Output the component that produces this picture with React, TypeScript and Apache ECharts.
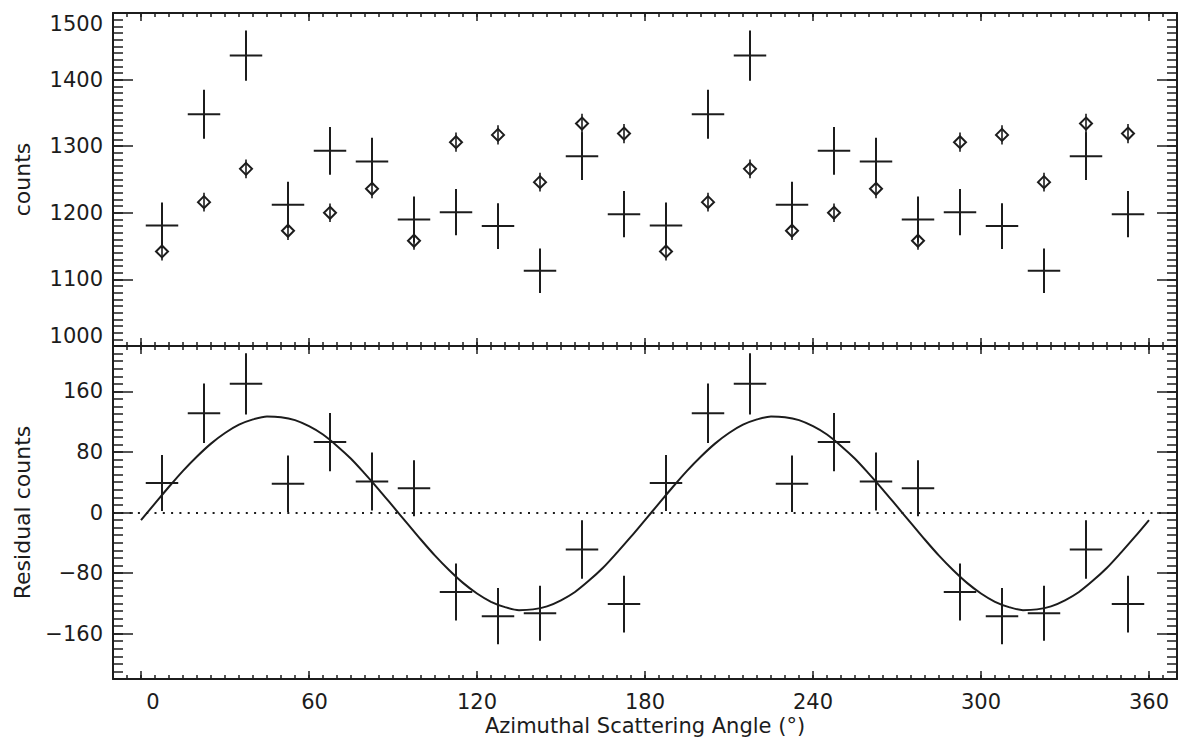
import React, { useEffect, useRef } from 'react';
import * as echarts from 'echarts';

// ---- data ----
const angles = [7.5, 22.5, 37.5, 52.5, 67.5, 82.5, 97.5, 112.5, 127.5, 142.5, 157.5, 172.5,
  187.5, 202.5, 217.5, 232.5, 247.5, 262.5, 277.5, 292.5, 307.5, 322.5, 337.5, 352.5];
const crossCounts = [1181, 1348, 1436, 1212, 1293, 1277, 1190, 1201, 1180, 1113, 1285, 1198,
  1181, 1348, 1436, 1212, 1293, 1277, 1190, 1201, 1180, 1113, 1285, 1198];
const crossErr = [34.4, 36.7, 37.9, 34.8, 36.0, 35.7, 34.5, 34.7, 34.3, 33.4, 35.8, 34.6,
  34.4, 36.7, 37.9, 34.8, 36.0, 35.7, 34.5, 34.7, 34.3, 33.4, 35.8, 34.6];
const diamondCounts = [1142, 1216, 1266, 1173, 1200, 1236, 1158, 1306, 1317, 1246, 1334, 1319,
  1142, 1216, 1266, 1173, 1200, 1236, 1158, 1306, 1317, 1246, 1334, 1319];
const diamondErr = [13.5, 14.0, 14.2, 13.7, 13.9, 14.1, 13.6, 14.4, 14.5, 14.1, 14.6, 14.5,
  13.5, 14.0, 14.2, 13.7, 13.9, 14.1, 13.6, 14.4, 14.5, 14.1, 14.6, 14.5];
const residuals = [39, 131, 170, 38, 93, 41, 32, -105, -137, -133, -49, -121,
  39, 131, 170, 38, 93, 41, 32, -105, -137, -133, -49, -121];
const residualErr = [36.9, 39.3, 40.5, 37.4, 38.6, 38.4, 37.1, 37.6, 37.2, 36.3, 38.7, 37.5,
  36.9, 39.3, 40.5, 37.4, 38.6, 38.4, 37.1, 37.6, 37.2, 36.3, 38.7, 37.5];
const fitAngles = [0, 5, 10, 15, 20, 25, 30, 35, 40, 45, 50, 55, 60, 65, 70, 75, 80, 85, 90,
  95, 100, 105, 110, 115, 120, 125, 130, 135, 140, 145, 150, 155, 160, 165, 170, 175, 180,
  185, 190, 195, 200, 205, 210, 215, 220, 225, 230, 235, 240, 245, 250, 255, 260, 265, 270,
  275, 280, 285, 290, 295, 300, 305, 310, 315, 320, 325, 330, 335, 340, 345, 350, 355, 360];
const fitValues = [-10, 12, 34, 55, 74, 91, 105, 116, 123, 127, 126, 122, 114, 103, 88, 71, 51, 30, 8,
  -14, -36, -57, -76, -93, -107, -118, -125, -129, -128, -124, -116, -105, -90, -73, -53, -32, -10,
  12, 34, 55, 74, 91, 105, 116, 123, 127, 126, 122, 114, 103, 88, 71, 51, 30, 8,
  -14, -36, -57, -76, -93, -107, -118, -125, -129, -128, -124, -116, -105, -90, -73, -53, -32, -10];

const xTickLabels = [0, 60, 120, 180, 240, 300, 360];
const countsTicks = [1000, 1100, 1200, 1300, 1400, 1500];
const residualTicks = [-160, -80, 0, 80, 160];
const binHalfWidth = 5.8;

// ---- axis ranges ----
const X_MIN = -10, X_MAX = 370;
const C_MIN = 1000, C_MAX = 1500;
const R_MIN = -220, R_MAX = 220;

const INK = '#1c1c1c';
const FONT = 'DejaVu Sans';

function steps(a: number, b: number, s: number) {
  const out: number[] = [];
  for (let v = a; v <= b + 1e-9; v += s) out.push(v);
  return out;
}
const xMinor = steps(-5, 365, 5);
const cMinor = steps(C_MIN, C_MAX, 10);
const rMinor = steps(R_MIN, R_MAX, 10);

const tickStyle = { color: INK, width: 1.5 };
const lineStyleAx = { color: INK, width: 2 };

function axis(grid: number, position: string, min: number, max: number,
  values: number[], len: number, showLine: boolean, label?: any, name?: any) {
  const a: any = {
    type: 'value', gridIndex: grid, position, min, max,
    axisLine: { show: showLine, onZero: false, lineStyle: lineStyleAx },
    axisTick: { show: true, inside: true, length: len, customValues: values, lineStyle: tickStyle },
    minorTick: { show: false },
    axisLabel: label ? { show: true, customValues: values, ...label } : { show: false },
    splitLine: { show: false },
    z: 5,
  };
  if (name) Object.assign(a, name);
  return a;
}

const labelFont = { fontFamily: FONT, fontSize: 21, color: INK };

const xLabel = {
  ...labelFont,
  margin: 15,
  lineHeight: 16,
  formatter: (v: number) => (v < 10 ? `{p2|${v}}` : v < 100 ? `{p1|${v}}` : `${v}`),
  rich: {
    p2: { ...labelFont, lineHeight: 16, padding: [0, 0, 0, 24] },
    p1: { ...labelFont, lineHeight: 16, padding: [0, 0, 0, 11] },
  },
};

const xAxes = [
  // grid 0
  axis(0, 'bottom', X_MIN, X_MAX, xTickLabels, 8, true),
  axis(0, 'bottom', X_MIN, X_MAX, xMinor, 4, false),
  axis(0, 'top', X_MIN, X_MAX, xTickLabels, 8, true),
  axis(0, 'top', X_MIN, X_MAX, xMinor, 4, false),
  // grid 1
  axis(1, 'bottom', X_MIN, X_MAX, xTickLabels, 8, true, xLabel, {
    name: 'Azimuthal Scattering Angle (°)', nameLocation: 'middle', nameGap: 39,
    nameTextStyle: { fontFamily: FONT, fontSize: 21, color: INK, lineHeight: 16 },
  }),
  axis(1, 'bottom', X_MIN, X_MAX, xMinor, 4, false),
  axis(1, 'top', X_MIN, X_MAX, xTickLabels, 8, true),
  axis(1, 'top', X_MIN, X_MAX, xMinor, 4, false),
];

const yAxes = [
  axis(0, 'left', C_MIN, C_MAX, countsTicks, 20, true, {
    ...labelFont, margin: 10, formatter: (v: number) => String(v),
    verticalAlignMaxLabel: 'top', verticalAlignMinLabel: 'bottom',
  }, {
    name: 'counts', nameLocation: 'middle', nameGap: 80, nameRotate: 90,
    nameTextStyle: { fontFamily: FONT, fontSize: 22, color: INK },
  }),
  axis(0, 'left', C_MIN, C_MAX, cMinor, 10, false),
  axis(0, 'right', C_MIN, C_MAX, countsTicks, 20, true),
  axis(0, 'right', C_MIN, C_MAX, cMinor, 10, false),
  axis(1, 'left', R_MIN, R_MAX, residualTicks, 20, true, {
    ...labelFont, margin: 10, formatter: (v: number) => String(v).replace('-', '\u2212'),
  }, {
    name: 'Residual counts', nameLocation: 'middle', nameGap: 80, nameRotate: 90,
    nameTextStyle: { fontFamily: FONT, fontSize: 22, color: INK },
  }),
  axis(1, 'left', R_MIN, R_MAX, rMinor, 10, false),
  axis(1, 'right', R_MIN, R_MAX, residualTicks, 20, true),
  axis(1, 'right', R_MIN, R_MAX, rMinor, 10, false),
];

const stroke = { stroke: INK, lineWidth: 2 };

function crossRender(params: any, api: any) {
  const x = api.value(0), y = api.value(1), e = api.value(2);
  const c = api.coord([x, y]);
  const t = api.coord([x, y + e]);
  const b = api.coord([x, y - e]);
  const l = api.coord([x - binHalfWidth, y]);
  const r = api.coord([x + binHalfWidth, y]);
  return {
    type: 'group',
    children: [
      { type: 'line', shape: { x1: l[0], y1: c[1], x2: r[0], y2: c[1] }, style: { ...stroke } },
      { type: 'line', shape: { x1: c[0], y1: t[1], x2: c[0], y2: b[1] }, style: { ...stroke } },
    ],
  };
}

function diamondRender(params: any, api: any) {
  const x = api.value(0), y = api.value(1), e = api.value(2);
  const c = api.coord([x, y]);
  const t = api.coord([x, y + e]);
  const b = api.coord([x, y - e]);
  const s = 6;
  return {
    type: 'group',
    children: [
      { type: 'line', shape: { x1: c[0], y1: t[1], x2: c[0], y2: b[1] }, style: { stroke: INK, lineWidth: 1.6 } },
      {
        type: 'polygon',
        shape: { points: [[c[0], c[1] - s], [c[0] + s, c[1]], [c[0], c[1] + s], [c[0] - s, c[1]]] },
        style: { fill: 'none', stroke: INK, lineWidth: 2 },
      },
    ],
  };
}

const option: any = {
  animation: false,
  backgroundColor: '#ffffff',
  textStyle: { fontFamily: FONT },
  grid: [
    { left: 113, right: 4, top: 13, height: 333 },
    { left: 113, right: 4, top: 346, height: 333 },
  ],
  xAxis: xAxes,
  yAxis: yAxes,
  series: [
    {
      type: 'custom', name: 'counts', coordinateSystem: 'cartesian2d', xAxisIndex: 0, yAxisIndex: 0,
      renderItem: crossRender, encode: { x: 0, y: 1 },
      data: angles.map((a, i) => [a, crossCounts[i], crossErr[i]]),
    },
    {
      type: 'custom', name: 'model', coordinateSystem: 'cartesian2d', xAxisIndex: 0, yAxisIndex: 0,
      renderItem: diamondRender, encode: { x: 0, y: 1 },
      data: angles.map((a, i) => [a, diamondCounts[i], diamondErr[i]]),
    },
    {
      type: 'custom', name: 'residual', coordinateSystem: 'cartesian2d', xAxisIndex: 4, yAxisIndex: 4,
      renderItem: crossRender, encode: { x: 0, y: 1 },
      data: angles.map((a, i) => [a, residuals[i], residualErr[i]]),
    },
    {
      type: 'line', name: 'fit', xAxisIndex: 4, yAxisIndex: 4,
      data: fitAngles.map((a, i) => [a, fitValues[i]]),
      smooth: 0.3, symbol: 'none', showSymbol: false,
      lineStyle: { color: INK, width: 2 },
      markLine: {
        silent: true, symbol: 'none', label: { show: false },
        lineStyle: { color: INK, width: 2, type: [2, 6.3] },
        data: [{ yAxis: 0 }],
      },
    },
  ],
};

export default function App() {
  const ref = useRef<HTMLDivElement>(null);
  useEffect(() => {
    const chart = echarts.init(ref.current!, null, { renderer: 'svg' });
    chart.setOption(option);
    return () => chart.dispose();
  }, []);
  return (
    <div
      ref={ref}
      style={{ position: 'fixed', left: 0, top: 0, width: 1181, height: 751, background: '#fff' }}
    />
  );
}
